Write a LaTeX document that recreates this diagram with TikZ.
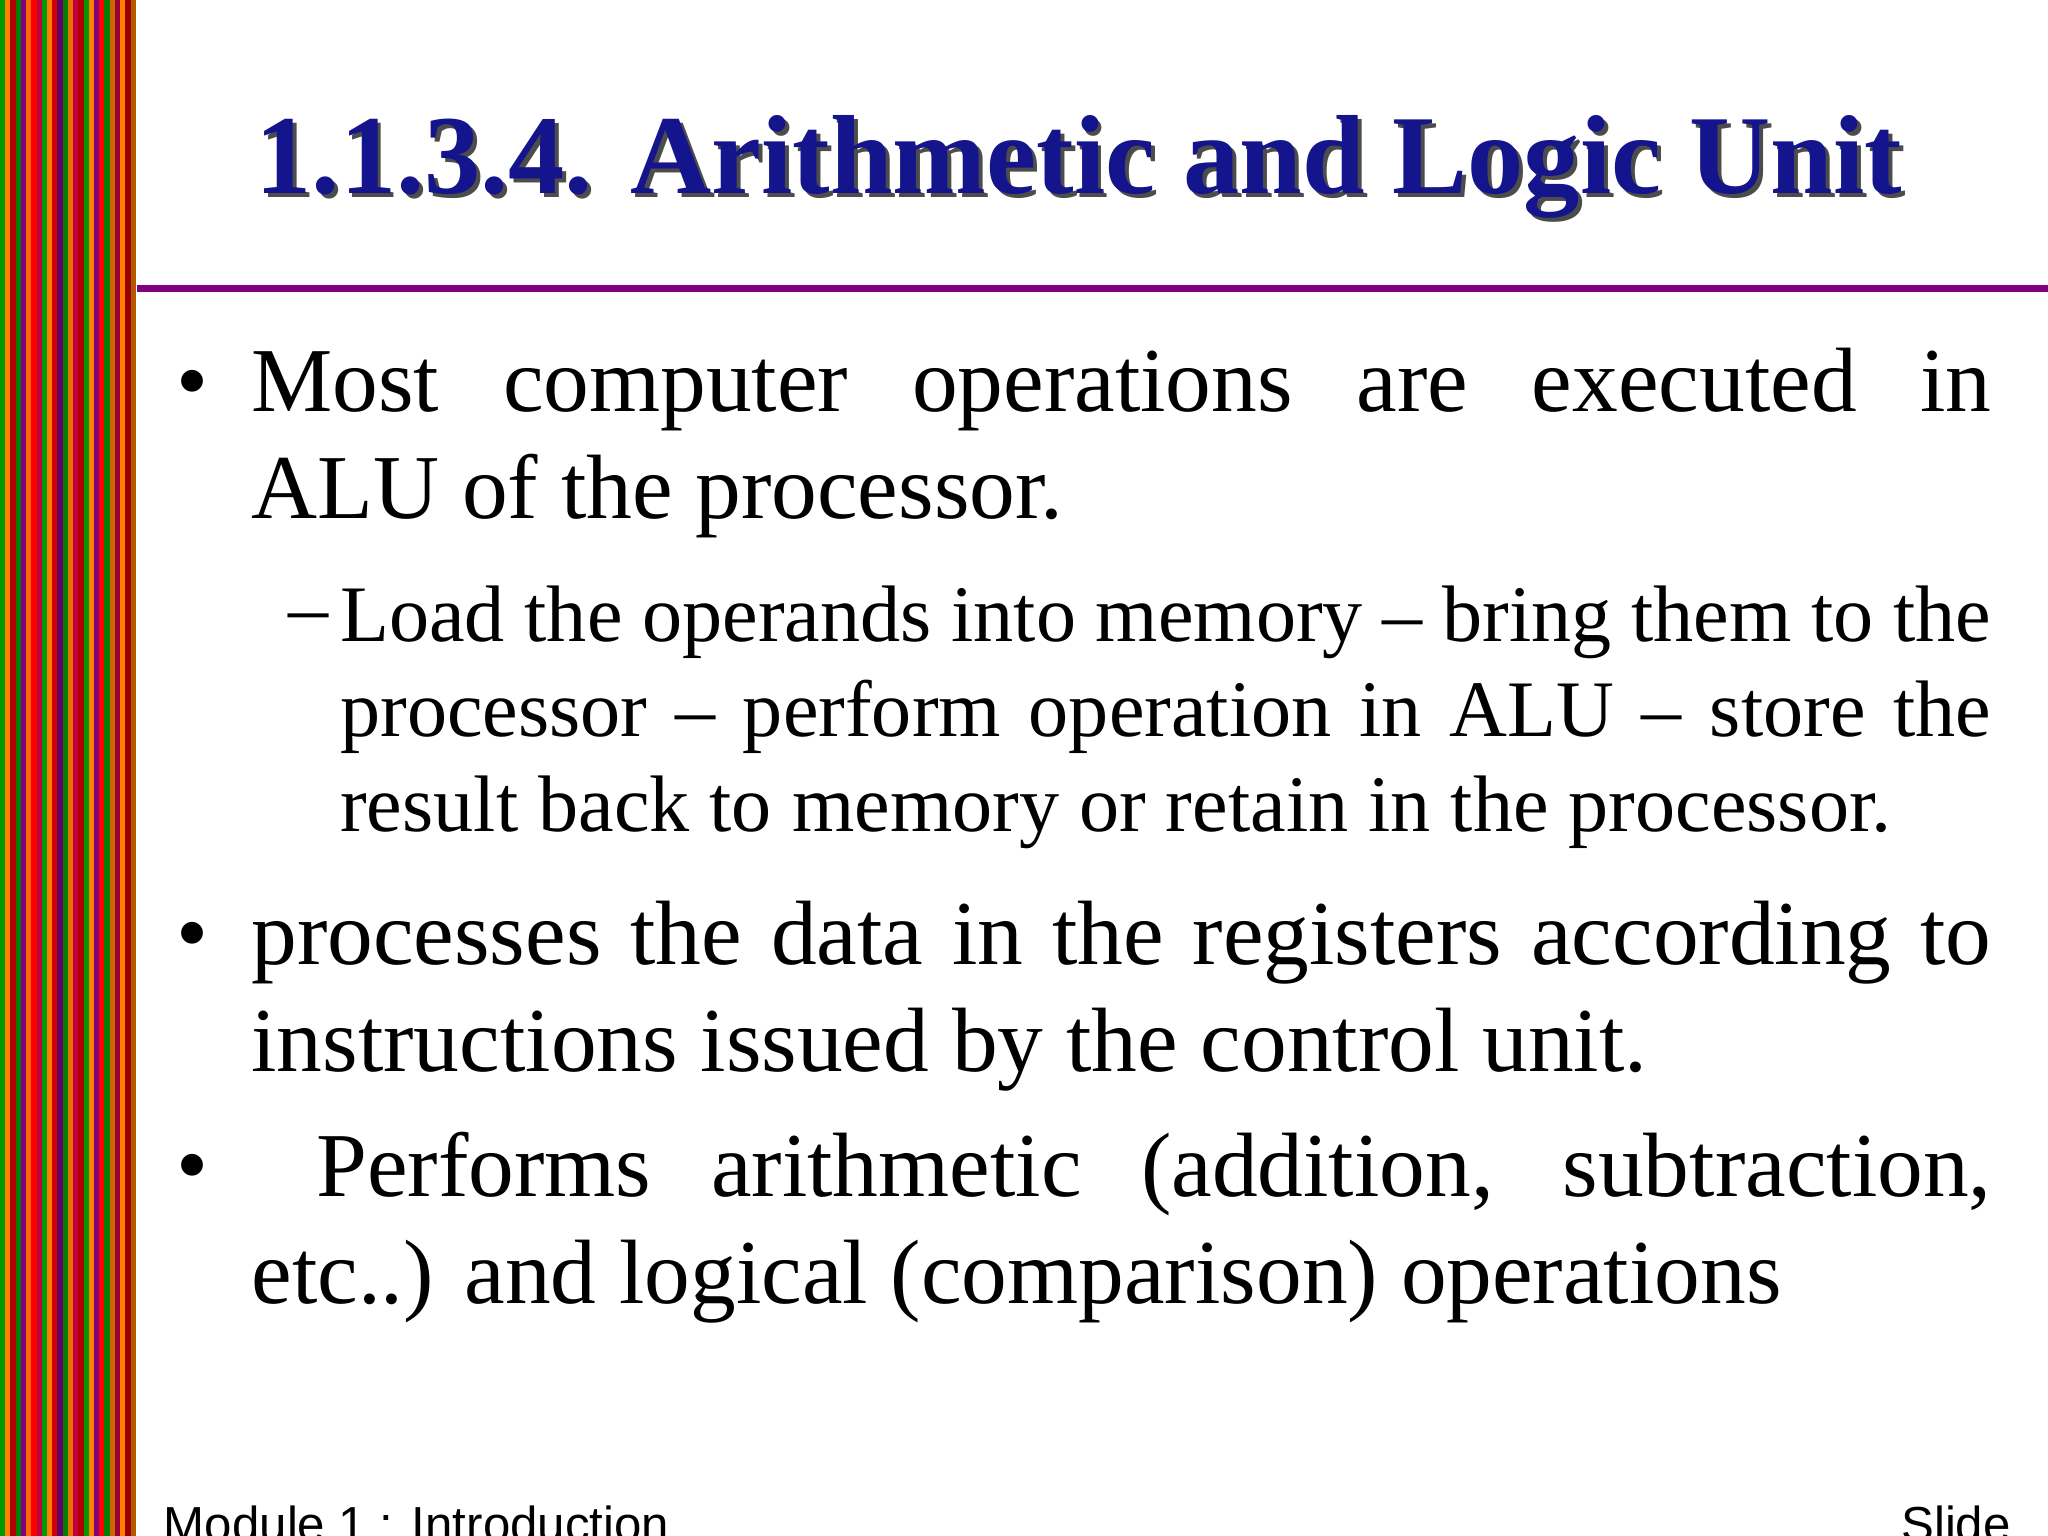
\documentclass[tikz,border=0pt]{standalone}
\usepackage{fontspec}
\setmainfont{Liberation Serif}
\newfontfamily\footfont{Liberation Sans}
\definecolor{titleblue}{RGB}{20,20,140}
\definecolor{linepurple}{RGB}{128,0,128}
\hyphenpenalty=10000
\exhyphenpenalty=10000
\begin{document}
\begin{tikzpicture}[x=0.013061cm,y=-0.013061cm,
  body/.style={anchor=north west,inner sep=0pt,align=justify,font=\fontsize{26}{30.5}\selectfont},
  sub/.style={anchor=north west,inner sep=0pt,align=justify,font=\fontsize{22.8}{27}\selectfont},
  bul/.style={anchor=base,inner sep=0pt,font=\fontsize{26}{30}\selectfont}]
\useasboundingbox (0,0) rectangle (1568,1176);
\fill[white] (0,0) rectangle (1568,1176);
% left stripes
\foreach \i/\c in {0/green!60!black,4/orange,8/red!70!black,12/green!50!black,16/violet,20/orange!80!red,24/red,28/purple,32/green!60!black,36/orange,40/red!80!black,44/violet!80!black,48/green!50!black,52/orange!90!black,56/purple,60/red!70!black,64/green!60!black,68/orange,72/violet,76/red,80/green!50!black,84/orange!80!black,88/purple!80!black,92/orange,96/red!60!black,100/orange!70!black}
  \fill[\c] (\i,0) rectangle ++(4,1176);
\draw[linepurple,line width=1.8pt] (105,221) -- (1568,221);
% title
\node[inner sep=0pt,anchor=base,font=\bfseries\fontsize{32}{40}\selectfont,text=black!70] (tsh) at (829,151) {1.1.3.4. Arithmetic and Logic Unit};
\node[inner sep=0pt,anchor=base,font=\bfseries\fontsize{32}{40}\selectfont,text=titleblue] (title) at (826,148) {1.1.3.4. Arithmetic and Logic Unit};
% bullets
\node[bul] (b1) at (147,315) {•};
\node[body,text width=17.40cm] (p1) at (192,266) {Most computer operations are executed in\linebreak ALU of the processor.};
\node[sub,anchor=base] (d1) at (236,486) {–};
\node[sub,text width=16.51cm] (p2) at (260,448) {Load the operands into memory – bring them to the processor – perform operation in ALU – store the result back to memory or retain in the processor.};
\node[bul] (b2) at (147,738) {•};
\node[body,text width=17.40cm] (p3) at (192,689) {processes the data in the registers according to instructions issued by the control unit.};
\node[bul] (b3) at (147,915) {•};
\node[body,text width=17.40cm] (p4) at (192,866) {\hspace{0.65cm}Performs arithmetic (addition, subtraction, etc..) and logical (comparison) operations};
% footer
\node[inner sep=0pt,anchor=base west,font=\footfont\fontsize{14}{16}\selectfont] (f1) at (125,1180) {Module 1 : Introduction};
\node[inner sep=0pt,anchor=base east,font=\footfont\fontsize{14}{16}\selectfont] (f2) at (1540,1180) {Slide};
\end{tikzpicture}
\end{document}
